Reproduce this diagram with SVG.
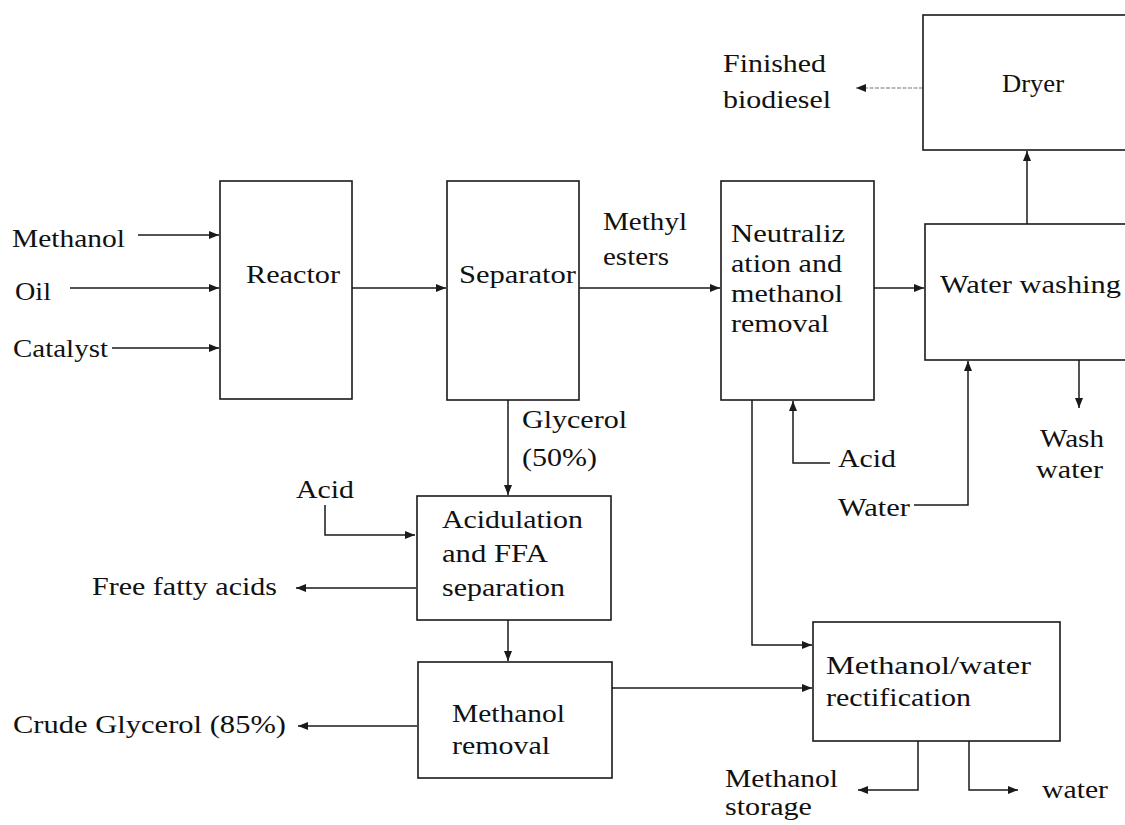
<svg xmlns="http://www.w3.org/2000/svg" width="1125" height="825" viewBox="0 0 1125 825">
<style>
  .box { fill: #fff; stroke: #1a1a1a; stroke-width: 1.6; }
  .t { font-family: "Liberation Serif", "Times New Roman", serif; font-size: 26px; fill: #111; }
  .ln { fill: none; stroke: #1a1a1a; stroke-width: 1.5; }
  .faint { fill: none; stroke: #777; stroke-width: 1.2; stroke-dasharray: 4 1.5; }
</style>
<defs>
  <marker id="ah" viewBox="0 0 10 8" refX="10" refY="4" markerWidth="10" markerHeight="8" markerUnits="userSpaceOnUse" orient="auto">
    <path d="M0,0 L10,4 L0,8 Z" fill="#1a1a1a"/>
  </marker>
</defs>
<rect width="1125" height="825" fill="#fff"/>

<g id="connectors">
  <line class="ln" x1="138" y1="235" x2="219" y2="235" marker-end="url(#ah)"/>
  <line class="ln" x1="70" y1="288" x2="219" y2="288" marker-end="url(#ah)"/>
  <line class="ln" x1="112" y1="348" x2="219" y2="348" marker-end="url(#ah)"/>
  <line class="ln" x1="352" y1="288" x2="446" y2="288" marker-end="url(#ah)"/>
  <line class="ln" x1="579" y1="288" x2="720" y2="288" marker-end="url(#ah)"/>
  <line class="ln" x1="874" y1="288" x2="924" y2="288" marker-end="url(#ah)"/>
  <line class="ln" x1="1027" y1="224" x2="1027" y2="151" marker-end="url(#ah)"/>
  <line class="faint" x1="923" y1="88" x2="856" y2="88" marker-end="url(#ah)"/>
  <line class="ln" x1="1079" y1="360" x2="1079" y2="408" marker-end="url(#ah)"/>
  <polyline class="ln" points="914,505 968,505 968,361" marker-end="url(#ah)"/>
  <polyline class="ln" points="830,463 793,463 793,401" marker-end="url(#ah)"/>
  <line class="ln" x1="508" y1="400" x2="508" y2="495" marker-end="url(#ah)"/>
  <polyline class="ln" points="325,505 325,535 415,535" marker-end="url(#ah)"/>
  <line class="ln" x1="416" y1="588" x2="296" y2="588" marker-end="url(#ah)"/>
  <line class="ln" x1="508" y1="620" x2="508" y2="661" marker-end="url(#ah)"/>
  <line class="ln" x1="417" y1="726" x2="298" y2="726" marker-end="url(#ah)"/>
  <line class="ln" x1="612" y1="688" x2="812" y2="688" marker-end="url(#ah)"/>
  <polyline class="ln" points="752,400 752,645 812,645" marker-end="url(#ah)"/>
  <polyline class="ln" points="918,741 918,790 858,790" marker-end="url(#ah)"/>
  <polyline class="ln" points="969,741 969,790 1018,790" marker-end="url(#ah)"/>
</g>

<g id="labels">
  <text class="t" x="12" y="247" textLength="113" lengthAdjust="spacingAndGlyphs">Methanol</text>
  <text class="t" x="15" y="300" textLength="36" lengthAdjust="spacingAndGlyphs">Oil</text>
  <text class="t" x="13" y="357" textLength="95" lengthAdjust="spacingAndGlyphs">Catalyst</text>
  <text class="t" x="603" y="230" textLength="84" lengthAdjust="spacingAndGlyphs">Methyl</text>
  <text class="t" x="603" y="265" textLength="66" lengthAdjust="spacingAndGlyphs">esters</text>
  <text class="t" x="723" y="72" textLength="103" lengthAdjust="spacingAndGlyphs">Finished</text>
  <text class="t" x="723" y="108" textLength="108" lengthAdjust="spacingAndGlyphs">biodiesel</text>
  <text class="t" x="1040" y="447" textLength="64" lengthAdjust="spacingAndGlyphs">Wash</text>
  <text class="t" x="1036" y="478" textLength="67" lengthAdjust="spacingAndGlyphs">water</text>
  <text class="t" x="838" y="467" textLength="58" lengthAdjust="spacingAndGlyphs">Acid</text>
  <text class="t" x="838" y="516" textLength="72" lengthAdjust="spacingAndGlyphs">Water</text>
  <text class="t" x="522" y="428" textLength="105" lengthAdjust="spacingAndGlyphs">Glycerol</text>
  <text class="t" x="522" y="466" textLength="75" lengthAdjust="spacingAndGlyphs">(50%)</text>
  <text class="t" x="296" y="498" textLength="58" lengthAdjust="spacingAndGlyphs">Acid</text>
  <text class="t" x="92" y="595" textLength="185" lengthAdjust="spacingAndGlyphs">Free fatty acids</text>
  <text class="t" x="13" y="733" textLength="273" lengthAdjust="spacingAndGlyphs">Crude Glycerol (85%)</text>
  <text class="t" x="725" y="787" textLength="113" lengthAdjust="spacingAndGlyphs">Methanol</text>
  <text class="t" x="725" y="815" textLength="87" lengthAdjust="spacingAndGlyphs">storage</text>
  <text class="t" x="1042" y="798" textLength="66" lengthAdjust="spacingAndGlyphs">water</text>
</g>

<g id="reactor">
  <rect class="box" x="220" y="181" width="132" height="218"/>
  <text class="t" x="246" y="283" textLength="94" lengthAdjust="spacingAndGlyphs">Reactor</text>
</g>
<g id="separator">
  <rect class="box" x="447" y="181" width="132" height="219"/>
  <text class="t" x="459" y="283" textLength="117" lengthAdjust="spacingAndGlyphs">Separator</text>
</g>
<g id="neutralization">
  <rect class="box" x="721" y="181" width="153" height="219"/>
  <text class="t" x="731" y="242" textLength="114" lengthAdjust="spacingAndGlyphs">Neutraliz</text>
  <text class="t" x="731" y="272" textLength="111" lengthAdjust="spacingAndGlyphs">ation and</text>
  <text class="t" x="731" y="302" textLength="112" lengthAdjust="spacingAndGlyphs">methanol</text>
  <text class="t" x="731" y="332" textLength="98" lengthAdjust="spacingAndGlyphs">removal</text>
</g>
<g id="water-washing">
  <rect class="box" x="925" y="224" width="215" height="136"/>
  <text class="t" x="940" y="293" textLength="181" lengthAdjust="spacingAndGlyphs">Water washing</text>
</g>
<g id="dryer">
  <rect class="box" x="923" y="15" width="217" height="135"/>
  <text class="t" x="1002" y="92" textLength="62" lengthAdjust="spacingAndGlyphs">Dryer</text>
</g>
<g id="acidulation">
  <rect class="box" x="417" y="496" width="194" height="124"/>
  <text class="t" x="442" y="528" textLength="141" lengthAdjust="spacingAndGlyphs">Acidulation</text>
  <text class="t" x="442" y="562" textLength="106" lengthAdjust="spacingAndGlyphs">and FFA</text>
  <text class="t" x="442" y="596" textLength="123" lengthAdjust="spacingAndGlyphs">separation</text>
</g>
<g id="methanol-removal">
  <rect class="box" x="418" y="662" width="194" height="116"/>
  <text class="t" x="452" y="722" textLength="113" lengthAdjust="spacingAndGlyphs">Methanol</text>
  <text class="t" x="452" y="754" textLength="98" lengthAdjust="spacingAndGlyphs">removal</text>
</g>
<g id="rectification">
  <rect class="box" x="813" y="622" width="247" height="119"/>
  <text class="t" x="826" y="674" textLength="205" lengthAdjust="spacingAndGlyphs">Methanol/water</text>
  <text class="t" x="826" y="706" textLength="145" lengthAdjust="spacingAndGlyphs">rectification</text>
</g>
</svg>
